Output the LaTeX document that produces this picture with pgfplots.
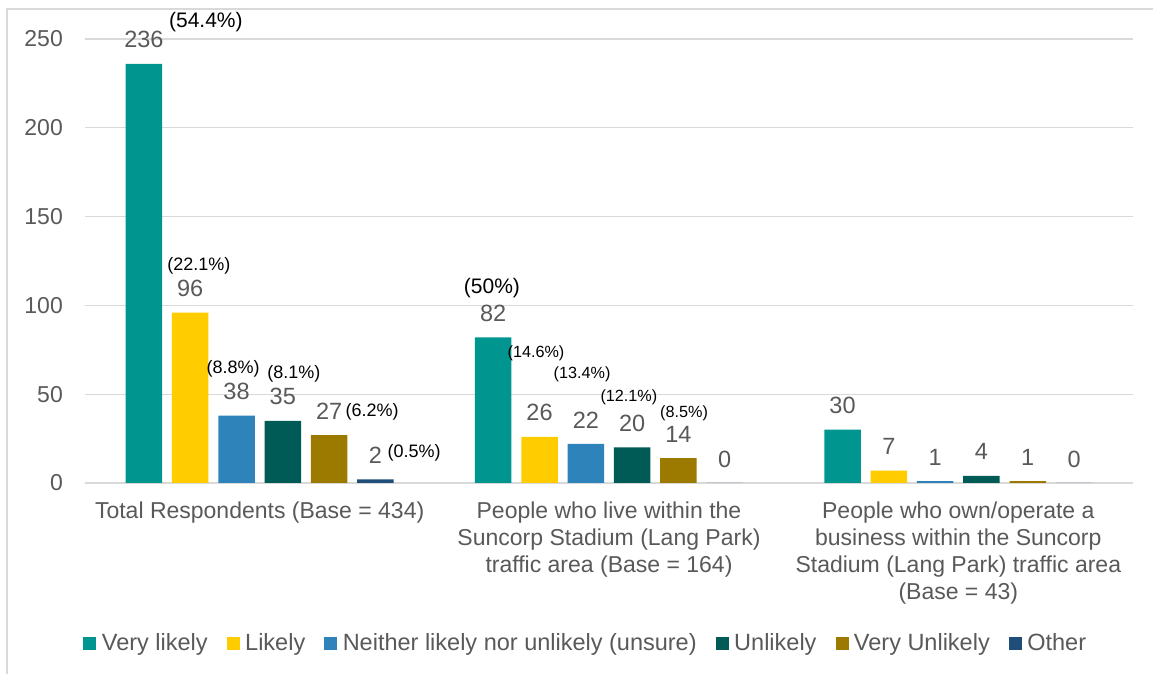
\documentclass[border=0pt]{standalone}
\usepackage{fontspec}
\setmainfont{Liberation Sans}
\usepackage{pgfplots}
\pgfplotsset{compat=1.18}
\definecolor{cVL}{RGB}{0,150,143}
\definecolor{cL}{RGB}{255,204,0}
\definecolor{cN}{RGB}{46,131,186}
\definecolor{cU}{RGB}{0,90,85}
\definecolor{cVU}{RGB}{156,122,0}
\definecolor{cO}{RGB}{31,78,121}
\definecolor{textgray}{RGB}{89,89,89}
\definecolor{gridgray}{RGB}{217,217,217}
\newcommand\lblfont{\fontsize{23}{27}\selectfont}
\newcommand\legfont{\fontsize{23.5}{27}\selectfont}
\newcommand\valfont{\fontsize{23.5}{27}\selectfont}
\newcommand\pctfont{\fontsize{18}{21}\selectfont}
\newcommand\pctsmall{\fontsize{16.2}{20}\selectfont}
\newcommand\pctbig{\fontsize{21}{24}\selectfont}
\begin{document}
\begin{tikzpicture}
\useasboundingbox (0pt,0pt) rectangle (1153pt,674pt);
\draw[color=gridgray, line width=1.5pt] (7pt,0pt) -- (7pt,665pt) -- (1153pt,665pt);
\begin{axis}[
  at={(85pt,191pt)}, anchor=south west,
  scale only axis, width=1048pt, height=444pt,
  xmin=-0.5, xmax=2.5, ymin=0, ymax=250,
  clip=false,
  ybar=9.8pt, bar width=36.5pt,
  xtick={0,1,2},
  xticklabels={Total Respondents (Base = 434),
    {People who live within the\\Suncorp Stadium (Lang Park)\\traffic area (Base = 164)},
    {People who own/operate a\\business within the Suncorp\\Stadium (Lang Park) traffic area\\(Base = 43)}},
  ytick={0,50,100,150,200,250},
  ymajorgrids, grid style={gridgray, line width=1.3pt},
  axis line style={draw=none},
  tick style={draw=none},
  major tick length=0pt,
  /pgf/number format/assume math mode=true,
  yticklabel style={font=\lblfont, text=textgray, anchor=east, inner sep=0pt, xshift=-22pt},
  xticklabel style={font=\lblfont, text=textgray, align=center, anchor=north, inner sep=0pt, yshift=-19pt},
  nodes near coords,
  every node near coord/.append style={font=\valfont, text=textgray, anchor=center, yshift=24pt},
  legend columns=6,
  legend style={draw=none, at={(0.4795,-0.3604)}, anchor=center, font=\legfont, text=textgray,
    /tikz/every even column/.append style={column sep=13.5pt},
    nodes={inner xsep=5.5pt}},
  legend image code/.code={\fill[#1] (0pt,-6.5pt) rectangle (13pt,6.5pt);},
]
\addplot[fill=cVL, draw=none] coordinates {(0,236) (1,82) (2,30)};
\addplot[fill=cL, draw=none] coordinates {(0,96) (1,26) (2,7)};
\addplot[fill=cN, draw=none] coordinates {(0,38) (1,22) (2,1)};
\addplot[fill=cU, draw=none] coordinates {(0,35) (1,20) (2,4)};
\addplot[fill=cVU, draw=none] coordinates {(0,27) (1,14) (2,1)};
\addplot[fill=cO, draw=none] coordinates {(0,2) (1,0) (2,0)};
\legend{Very likely, Likely, Neither likely nor unlikely (unsure), Unlikely, Very Unlikely, Other}
\node[font=\pctbig] at (axis cs:-0.154,259.6) {(54.4\%)};
\node[font=\pctfont] at (axis cs:-0.174,122.2) {(22.1\%)};
\node[font=\pctfont] at (axis cs:-0.076,64.2) {(8.8\%)};
\node[font=\pctfont] at (axis cs:0.098,61.4) {(8.1\%)};
\node[font=\pctfont] at (axis cs:0.322,40.0) {(6.2\%)};
\node[font=\pctfont] at (axis cs:0.442,16.9) {(0.5\%)};
\node[font=\pctbig] at (axis cs:0.665,109.8) {(50\%)};
\node[font=\pctsmall] at (axis cs:0.791,73.2) {(14.6\%)};
\node[font=\pctsmall] at (axis cs:0.923,61.4) {(13.4\%)};
\node[font=\pctsmall] at (axis cs:1.057,48.4) {(12.1\%)};
\node[font=\pctsmall] at (axis cs:1.215,39.4) {(8.5\%)};
\end{axis}
\end{tikzpicture}
\end{document}
